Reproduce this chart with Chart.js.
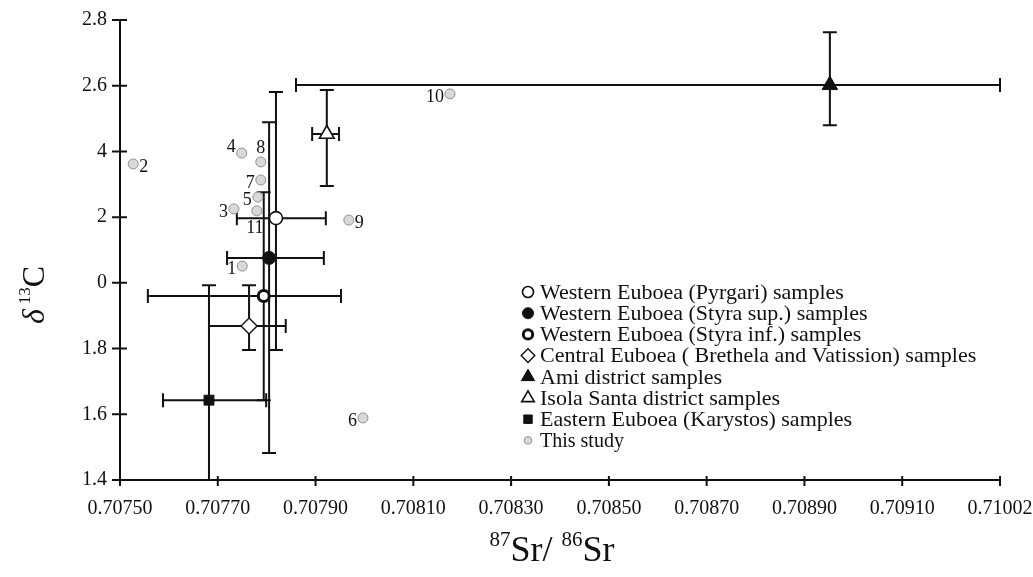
<!DOCTYPE html>
<html lang="en">
<head>
  <meta charset="UTF-8">
  <title>Sr / C isotope plot</title>
  <script src="https://cdn.jsdelivr.net/npm/chart.js"></script>
  <style>
    body { margin: 0; background: #fff; }
    .wrap { width: 1033px; height: 577px; position: relative; }
  </style>
</head>
<body>
  <div class="wrap"><canvas id="plot"></canvas></div>

  <script>
    // axis ticks (the printed labels are kept as they appear in the figure)
    const xTickValues = [0.7075, 0.7077, 0.7079, 0.7081, 0.7083, 0.7085, 0.7087, 0.7089, 0.7091, 0.7093];
    const xTickLabels = ['0.70750', '0.70770', '0.70790', '0.70810', '0.70830', '0.70850', '0.70870', '0.70890', '0.70910', '0.71002'];
    const yTickValues = [1.4, 1.6, 1.8, 2.0, 2.2, 2.4, 2.6, 2.8];
    const yTickLabels = ['1.4', '1.6', '1.8', '0', '2', '4', '2.6', '2.8'];

    // literature samples with error bars
    const litNames = [
      'Western Euboea (Pyrgari) samples',
      'Western Euboea (Styra sup.) samples',
      'Western Euboea (Styra inf.) samples',
      'Central Euboea ( Brethela and Vatission) samples',
      'Ami district samples',
      'Isola Santa district samples',
      'Eastern Euboea (Karystos) samples'
    ];
    const litX     = [0.707819, 0.707805, 0.707794, 0.707764, 0.708952, 0.707923, 0.707682];
    const litY     = [2.197, 2.076, 1.960, 1.869, 2.602, 2.453, 1.643];
    const litXLow  = [0.707739, 0.707719, 0.707557, 0.707682, 0.707860, 0.707893, 0.707588];
    const litXHigh = [0.707921, 0.707917, 0.707952, 0.707839, 0.709300, 0.707948, 0.707799];
    const litYLow  = [1.796, 1.482, 1.643, 1.796, 2.480, 2.295, 1.293];
    const litYHigh = [2.581, 2.489, 2.276, 1.993, 2.763, 2.587, 1.993];

    // this study
    const studyLabels = ['1', '2', '3', '4', '5', '6', '7', '8', '9', '10', '11'];
    const studyX = [0.707750, 0.707527, 0.707733, 0.707749, 0.707782, 0.707997, 0.707788, 0.707788, 0.707968, 0.708175, 0.707780];
    const studyY = [2.051, 2.362, 2.225, 2.395, 2.261, 1.589, 2.313, 2.368, 2.191, 2.575, 2.219];

    const serif = '"Liberation Serif", "Times New Roman", serif';
    const ink = '#111';

    const markerStyles = [
      { pointStyle: 'circle', radius: 6.5, backgroundColor: '#fff', borderColor: ink, borderWidth: 1.6 },
      { pointStyle: 'circle', radius: 6.5, backgroundColor: ink, borderColor: ink, borderWidth: 1 },
      { pointStyle: 'circle', radius: 5.5, backgroundColor: '#fff', borderColor: ink, borderWidth: 3 },
      { pointStyle: 'rectRot', radius: 8, backgroundColor: '#fff', borderColor: ink, borderWidth: 1.4 },
      { pointStyle: 'triangle', radius: 9, backgroundColor: ink, borderColor: ink, borderWidth: 1 },
      { pointStyle: 'triangle', radius: 8.5, backgroundColor: '#fff', borderColor: ink, borderWidth: 1.6 },
      { pointStyle: 'rect', radius: 7, backgroundColor: ink, borderColor: ink, borderWidth: 1 }
    ];
    const studyStyle = { pointStyle: 'circle', radius: 5, backgroundColor: '#d9d9d9', borderColor: '#909090', borderWidth: 1 };

    const datasets = litNames.map((name, i) => ({
      label: name,
      data: [{ x: litX[i], y: litY[i] }],
      pointStyle: markerStyles[i].pointStyle,
      pointRadius: markerStyles[i].radius,
      pointBackgroundColor: markerStyles[i].backgroundColor,
      pointBorderColor: markerStyles[i].borderColor,
      pointBorderWidth: markerStyles[i].borderWidth,
      showLine: false
    }));
    datasets.push({
      label: 'This study',
      data: studyX.map((x, i) => ({ x: x, y: studyY[i] })),
      pointStyle: studyStyle.pointStyle,
      pointRadius: studyStyle.radius,
      pointBackgroundColor: studyStyle.backgroundColor,
      pointBorderColor: studyStyle.borderColor,
      pointBorderWidth: studyStyle.borderWidth,
      showLine: false
    });

    // where each number sits around its grey point
    const labelSide = ['left', 'right', 'left', 'upleft', 'left', 'left', 'left', 'up', 'right', 'left', 'down'];

    const errorBars = {
      id: 'errorBars',
      beforeDatasetsDraw(chart) {
        const { ctx, chartArea: a, scales: { x, y } } = chart;
        ctx.save();
        ctx.beginPath();
        ctx.rect(a.left - 2, a.top - 10, a.right - a.left + 12, a.bottom - a.top + 10);
        ctx.clip();
        ctx.strokeStyle = ink;
        ctx.lineWidth = 2;
        const cap = 7;
        litNames.forEach((n, i) => {
          const px = x.getPixelForValue(litX[i]);
          const py = y.getPixelForValue(litY[i]);
          const x0 = x.getPixelForValue(litXLow[i]);
          const x1 = x.getPixelForValue(litXHigh[i]);
          const y0 = y.getPixelForValue(litYLow[i]);
          const y1 = y.getPixelForValue(litYHigh[i]);
          ctx.beginPath();
          ctx.moveTo(x0, py); ctx.lineTo(x1, py);
          ctx.moveTo(px, y0); ctx.lineTo(px, y1);
          ctx.moveTo(x0, py - cap); ctx.lineTo(x0, py + cap);
          ctx.moveTo(x1, py - cap); ctx.lineTo(x1, py + cap);
          ctx.moveTo(px - cap, y0); ctx.lineTo(px + cap, y0);
          ctx.moveTo(px - cap, y1); ctx.lineTo(px + cap, y1);
          ctx.stroke();
        });
        ctx.restore();
      }
    };

    const axisTicks = {
      id: 'axisTicks',
      afterDraw(chart) {
        const { ctx, chartArea: a, scales: { x, y } } = chart;
        ctx.save();
        ctx.strokeStyle = ink;
        ctx.lineWidth = 2;
        ctx.beginPath();
        ctx.moveTo(a.left, a.top); ctx.lineTo(a.left, a.bottom); ctx.lineTo(a.right, a.bottom);
        yTickValues.forEach(v => {
          const py = y.getPixelForValue(v);
          ctx.moveTo(a.left - 8, py); ctx.lineTo(a.left + 7, py);
        });
        xTickValues.forEach(v => {
          const px = x.getPixelForValue(v);
          ctx.moveTo(px, a.bottom - 4); ctx.lineTo(px, a.bottom + 6);
        });
        ctx.stroke();
        ctx.restore();
      }
    };

    const pointNumbers = {
      id: 'pointNumbers',
      afterDatasetsDraw(chart) {
        const { ctx } = chart;
        const meta = chart.getDatasetMeta(litNames.length);
        ctx.save();
        ctx.fillStyle = ink;
        ctx.font = '18px ' + serif;
        meta.data.forEach((pt, i) => {
          const side = labelSide[i];
          let tx = pt.x, ty = pt.y;
          ctx.textBaseline = 'middle';
          if (side === 'left') { ctx.textAlign = 'right'; tx -= 6; ty += 3; }
          else if (side === 'right') { ctx.textAlign = 'left'; tx += 6; ty += 3; }
          else if (side === 'up') { ctx.textAlign = 'center'; ty -= 14; }
          else if (side === 'down') { ctx.textAlign = 'center'; tx -= 2; ty += 17; }
          else if (side === 'upleft') { ctx.textAlign = 'right'; tx -= 6; ty -= 6; }
          ctx.fillText(studyLabels[i], tx, ty);
        });
        ctx.restore();
      }
    };

    const sideLegend = {
      id: 'sideLegend',
      afterDraw(chart) {
        const { ctx } = chart;
        const styles = markerStyles.concat([Object.assign({}, studyStyle, { radius: 4.5 })]);
        const names = litNames.concat(['This study']);
        const mx = 528, tx = 540, top = 292, step = 21.2;
        ctx.save();
        ctx.textBaseline = 'middle';
        ctx.textAlign = 'left';
        names.forEach((name, i) => {
          const s = styles[i];
          const yy = top + i * step;
          ctx.fillStyle = s.backgroundColor;
          ctx.strokeStyle = s.borderColor;
          ctx.lineWidth = s.borderWidth;
          Chart.helpers.drawPoint(ctx, { pointStyle: s.pointStyle, radius: s.radius * 0.85, rotation: 0, borderWidth: s.borderWidth }, mx, yy);
          ctx.fillStyle = ink;
          ctx.font = (i === names.length - 1 ? '20px ' : '22px ') + serif;
          ctx.fillText(name, tx, yy + 1);
        });
        ctx.restore();
      }
    };

    const axisTitles = {
      id: 'axisTitles',
      afterDraw(chart) {
        const { ctx, chartArea: a } = chart;
        ctx.save();
        ctx.fillStyle = ink;
        ctx.textBaseline = 'alphabetic';
        ctx.textAlign = 'left';
        // x title: 87Sr/ 86Sr
        const big = '36px ' + serif, small = '21px ' + serif;
        const parts = [['87', small, -15], ['Sr/ ', big, 0], ['86', small, -15], ['Sr', big, 0]];
        let w = 0;
        parts.forEach(p => { ctx.font = p[1]; w += ctx.measureText(p[0]).width; });
        let cx = (a.left + a.right) / 2 - 8 - w / 2;
        parts.forEach(p => { ctx.font = p[1]; ctx.fillText(p[0], cx, 561 + p[2]); cx += ctx.measureText(p[0]).width; });
        // y title: delta 13C
        ctx.translate(44, 295);
        ctx.rotate(-Math.PI / 2);
        const yparts = [['\u03B4', 'italic 32px ' + serif, 0, 5], ['13', '17px ' + serif, -14, 0], ['C', '32px ' + serif, 0, 0]];
        let yw = 0;
        yparts.forEach(p => { ctx.font = p[1]; yw += ctx.measureText(p[0]).width + p[3]; });
        let cy = -yw / 2;
        yparts.forEach(p => { ctx.font = p[1]; ctx.fillText(p[0], cy, p[2]); cy += ctx.measureText(p[0]).width + p[3]; });
        ctx.restore();
      }
    };

    new Chart(document.getElementById('plot').getContext('2d'), {
      type: 'scatter',
      data: { datasets: datasets },
      options: {
        responsive: true,
        maintainAspectRatio: false,
        animation: false,
        layout: { padding: { top: 20, right: 0, left: 0, bottom: 0 } },
        plugins: {
          legend: { display: false },
          tooltip: { enabled: false }
        },
        scales: {
          x: {
            type: 'linear',
            min: 0.7075,
            max: 0.7093,
            afterBuildTicks: scale => { scale.ticks = xTickValues.map(v => ({ value: v })); },
            afterFit: scale => { scale.height = 97; scale.paddingRight = 33; scale.paddingLeft = 0; },
            grid: { display: false },
            border: { display: false },
            ticks: {
              autoSkip: false,
              maxRotation: 0,
              padding: 9,
              color: ink,
              font: { family: serif, size: 20 },
              callback: (v, i) => xTickLabels[i]
            }
          },
          y: {
            type: 'linear',
            min: 1.4,
            max: 2.8,
            afterBuildTicks: scale => { scale.ticks = yTickValues.map(v => ({ value: v })); },
            afterFit: scale => { scale.width = 120; },
            grid: { display: false },
            border: { display: false },
            ticks: {
              autoSkip: false,
              padding: 5,
              color: ink,
              font: { family: serif, size: 20 },
              callback: (v, i) => yTickLabels[i]
            }
          }
        }
      },
      plugins: [errorBars, pointNumbers, axisTicks, sideLegend, axisTitles]
    });
  </script>
</body>
</html>
